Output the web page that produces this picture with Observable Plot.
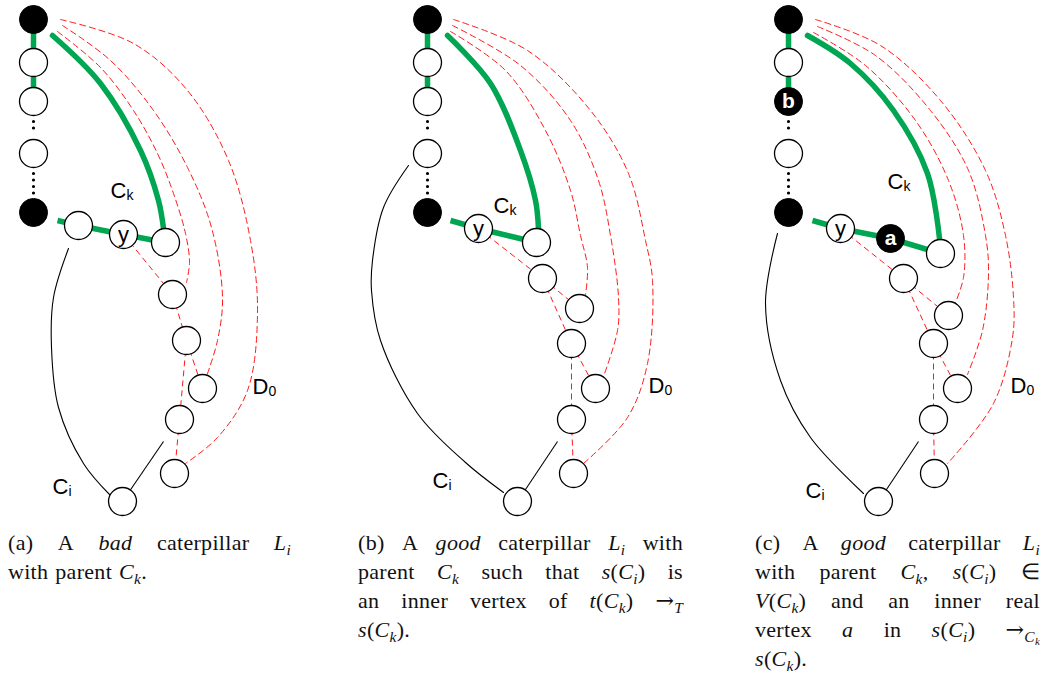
<!DOCTYPE html>
<html><head><meta charset="utf-8">
<script src="https://cdn.jsdelivr.net/npm/d3@7"></script>
<script src="https://cdn.jsdelivr.net/npm/@observablehq/plot@0.6"></script>
<style>
body{margin:0;background:#fff;width:1042px;height:677px;overflow:hidden}
#chart svg{display:block}
#caps{position:relative;width:1042px;height:157px;font-family:"Liberation Serif","Times New Roman",serif;font-size:22px;color:#111;overflow:hidden}
.col{position:absolute;top:8px}
.ln{height:29px;line-height:29px;display:flex;justify-content:space-between;white-space:nowrap;letter-spacing:0.3px}
.ln.last{justify-content:flex-start;gap:7px}
sub{font-size:0.7em;vertical-align:-0.3em;line-height:0}
.arr{font-family:"DejaVu Serif",serif;font-size:1em}
</style></head>
<body>
<div id="chart"></div>
<div id="caps"></div>
<script>
// ---------- nodes (x, y in picture pixels) ----------
const nodesA = [
  {id:"a_top",x:33,y:19,kind:"black",label:""},
  {id:"a_n2",x:33,y:62,kind:"white",label:""},
  {id:"a_n3",x:33,y:101,kind:"white",label:""},
  {id:"a_n4",x:33,y:153,kind:"white",label:""},
  {id:"a_bl",x:33,y:212,kind:"black",label:""},
  {id:"a_w1",x:78,y:225,kind:"white",label:""},
  {id:"a_y",x:123,y:234,kind:"white",label:"y"},
  {id:"a_g",x:165,y:242,kind:"white",label:""},
  {id:"a5",x:172,y:294,kind:"white",label:""},
  {id:"a6",x:186,y:340,kind:"white",label:""},
  {id:"a7",x:202,y:388,kind:"white",label:""},
  {id:"a8",x:179,y:419,kind:"white",label:""},
  {id:"a9",x:174,y:473,kind:"white",label:""},
  {id:"a_ci",x:122,y:501,kind:"white",label:""},
  {id:"a_gs",x:57,y:220,kind:"anchor",label:""},
  {id:"a_ce",x:163,y:441,kind:"anchor",label:""}
];
const nodesB = [
  {id:"b_top",x:427,y:19,kind:"black",label:""},
  {id:"b_n2",x:427,y:62,kind:"white",label:""},
  {id:"b_n3",x:427,y:101,kind:"white",label:""},
  {id:"b_n4",x:427,y:153,kind:"white",label:""},
  {id:"b_bl",x:427,y:212,kind:"black",label:""},
  {id:"b_y",x:478,y:228,kind:"white",label:"y"},
  {id:"b_g",x:536,y:242,kind:"white",label:""},
  {id:"b5",x:542,y:278,kind:"white",label:""},
  {id:"b6",x:579,y:308,kind:"white",label:""},
  {id:"b7",x:571,y:343,kind:"white",label:""},
  {id:"b8",x:595,y:388,kind:"white",label:""},
  {id:"b9",x:571,y:419,kind:"white",label:""},
  {id:"b10",x:573,y:473,kind:"white",label:""},
  {id:"b_ci",x:517,y:501,kind:"white",label:""},
  {id:"b_gs",x:450,y:220,kind:"anchor",label:""},
  {id:"b_ce",x:557,y:441,kind:"anchor",label:""}
];
const nodesC = [
  {id:"c_top",x:788,y:19,kind:"black",label:""},
  {id:"c_n2",x:788,y:62,kind:"white",label:""},
  {id:"c_b",x:788,y:101,kind:"black",label:"b"},
  {id:"c_n4",x:788,y:153,kind:"white",label:""},
  {id:"c_bl",x:788,y:212,kind:"black",label:""},
  {id:"c_y",x:840,y:228,kind:"white",label:"y"},
  {id:"c_a",x:890,y:238,kind:"black",label:"a"},
  {id:"c_g",x:940,y:253,kind:"white",label:""},
  {id:"c5",x:903,y:278,kind:"white",label:""},
  {id:"c6",x:948,y:315,kind:"white",label:""},
  {id:"c7",x:933,y:343,kind:"white",label:""},
  {id:"c8",x:957,y:388,kind:"white",label:""},
  {id:"c9",x:933,y:419,kind:"white",label:""},
  {id:"c10",x:934,y:473,kind:"white",label:""},
  {id:"c_ci",x:878,y:501,kind:"white",label:""},
  {id:"c_gs",x:812,y:220,kind:"anchor",label:""},
  {id:"c_ce",x:918,y:441,kind:"anchor",label:""}
];

// ---------- edges ----------
const greenEdges = [
  ["a_top","a_n2"],["a_n2","a_n3"],["a_gs","a_w1"],["a_w1","a_y"],["a_y","a_g"],
  ["b_top","b_n2"],["b_n2","b_n3"],["b_gs","b_y"],["b_y","b_g"],
  ["c_top","c_n2"],["c_n2","c_b"],["c_gs","c_y"],["c_y","c_a"],["c_a","c_g"]
];
const dottedEdges = [
  ["a_n3","a_n4"],["a_n4","a_bl"],
  ["b_n3","b_n4"],["b_n4","b_bl"],
  ["c_b","c_n4"],["c_n4","c_bl"]
];
const redEdges = [
  ["a_y","a5"],["a5","a6"],["a6","a7"],["a6","a8"],["a8","a9"],
  ["b_y","b5"],["b5","b6"],["b5","b7"],["b7","b8"],["b7","b9"],["b9","b10"],
  ["c_y","c5"],["c5","c6"],["c5","c7"],["c7","c8"],["c7","c9"],["c9","c10"]
];
const blackEdges = [["a_ci","a_ce"],["b_ci","b_ce"],["c_ci","c_ce"]];

// ---------- curves ----------
const ckA = [[52,35],[100,83],[140,150],[158,200],[163,228]];
const ckB = [[447,35],[490,83],[520,150],[535,200],[538,228]];
const ckC = [[807,35],[850,63],[893,110],[927,173],[939,238]];

const ciA = [[68,248],[53,297],[51,347],[58,407],[83,463],[110,495]];
const ciB = [[408,165],[383,207],[372,260],[371,290],[380,340],[417,413],[465,462],[503,492]];
const ciC = [[777,233],[765,303],[780,380],[810,437],[863,493]];

const redA = [
  [[57,31],[100,67],[133,110],[157,153],[173,193],[185,233],[189,262],[186,282]],
  [[62,25],[110,60],[153,110],[187,167],[211,227],[222,297],[217,340],[206,376]],
  [[60,19],[133,43],[187,90],[228,160],[250,240],[257,313],[247,390],[217,437],[185,463]]
];
const redB = [
  [[450,31],[505,70],[545,130],[570,190],[580,235],[587,267],[585,294]],
  [[452,25],[520,65],[570,120],[598,180],[610,235],[618,297],[617,330],[603,376]],
  [[453,19],[527,50],[590,110],[628,173],[645,240],[652,280],[647,363],[627,417],[583,463]]
];
const redC = [
  [[813,32],[865,65],[915,120],[948,180],[963,235],[963,277],[955,302]],
  [[817,26],[875,55],[930,110],[968,170],[985,235],[988,273],[982,330],[967,374]],
  [[815,19],[880,45],[940,100],[985,170],[1005,235],[1013,297],[1012,337],[993,403],[947,463]]
];

// ---------- curve labels ----------
const curveLabels = [
  {x:110,y:190,base:"C",sub:"k"},{x:493,y:205,base:"C",sub:"k"},{x:887,y:181,base:"C",sub:"k"},
  {x:52,y:486,base:"C",sub:"i"},{x:432,y:480,base:"C",sub:"i"},{x:805,y:490,base:"C",sub:"i"},
  {x:252,y:386,base:"D",sub:"0"},{x:648,y:385,base:"D",sub:"0"},{x:1010,y:385,base:"D",sub:"0"}
];

// ---------- captions ----------
const S = (v, s) => `<i>${v}</i><sub><i>${s}</i></sub>`;
const capA = [
  ["(a)","A","<i>bad</i>","caterpillar",S("L","i")],
  ["with","parent",S("C","k")+"."]
];
const capB = [
  ["(b)","A","<i>good</i>","caterpillar",S("L","i"),"with"],
  ["parent",S("C","k"),"such","that",`<i>s</i>(${S("C","i")})`,"is"],
  ["an","inner","vertex","of",`<i>t</i>(${S("C","k")})`,`<span class="arr">→</span><sub><i>T</i></sub>`],
  [`<i>s</i>(${S("C","k")}).`]
];
const capC = [
  ["(c)","A","<i>good</i>","caterpillar",S("L","i")],
  ["with","parent",S("C","k")+",",`<i>s</i>(${S("C","i")})`,"∈"],
  [`<i>V</i>(${S("C","k")})`,"and","an","inner","real"],
  ["vertex","<i>a</i>","in",`<i>s</i>(${S("C","i")})`,`<span class="arr">→</span><sub>${S("C","k")}</sub>`],
  [`<i>s</i>(${S("C","k")}).`]
];
const capCols = [{left:8,width:283,lines:capA},{left:358,width:325,lines:capB},{left:755,width:285,lines:capC}];

// ---------- build ----------
const allNodes = [...nodesA, ...nodesB, ...nodesC];
const byId = new Map(allNodes.map(d => [d.id, d]));
const seg = pairs => pairs.map(([a, b]) => ({x1: byId.get(a).x, y1: byId.get(a).y, x2: byId.get(b).x, y2: byId.get(b).y}));
const pts = curves => curves.flatMap((c, i) => c.map(([x, y]) => ({x, y, z: i})));
const dotted = seg(dottedEdges).map(d => ({...d, y1: d.y1 + 20, y2: d.y2 - 19}));

const GREEN = "#00a651", RED = "#ff1a1a";
const visible = allNodes.filter(d => d.kind !== "anchor");

const chart = Plot.plot({
  width: 1042, height: 520, margin: 0,
  x: {domain: [0, 1042], range: [0, 1042], axis: null},
  y: {domain: [0, 520], range: [0, 520], axis: null},
  style: {fontFamily: "'Liberation Sans', Arial, sans-serif", background: "white"},
  marks: [
    Plot.line(pts([...redA, ...redB, ...redC]), {x: "x", y: "y", z: "z", stroke: RED, strokeWidth: 1, strokeDasharray: "6,4", curve: "catmull-rom"}),
    Plot.link(seg(redEdges), {x1: "x1", y1: "y1", x2: "x2", y2: "y2", stroke: RED, strokeWidth: 1, strokeDasharray: "6,4"}),
    Plot.line(pts([ciA, ciB, ciC]), {x: "x", y: "y", z: "z", stroke: "black", strokeWidth: 1.1, curve: "catmull-rom"}),
    Plot.link(seg(blackEdges), {x1: "x1", y1: "y1", x2: "x2", y2: "y2", stroke: "black", strokeWidth: 1.1}),
    Plot.line(pts([ckA, ckB, ckC]), {x: "x", y: "y", z: "z", stroke: GREEN, strokeWidth: 5.5, curve: "catmull-rom"}),
    Plot.link(seg(greenEdges), {x1: "x1", y1: "y1", x2: "x2", y2: "y2", stroke: GREEN, strokeWidth: 5.5}),
    Plot.link(dotted, {x1: "x1", y1: "y1", x2: "x2", y2: "y2", stroke: "black", strokeWidth: 3.2, strokeDasharray: "0,6.5", strokeLinecap: "round"}),
    Plot.dot(visible.filter(d => d.kind === "white"), {x: "x", y: "y", r: 14, fill: "white", stroke: "black", strokeWidth: 1.3}),
    Plot.dot(visible.filter(d => d.kind === "black"), {x: "x", y: "y", r: 14, fill: "black", stroke: "black", strokeWidth: 1}),
    Plot.text(visible.filter(d => d.label && d.kind === "white"), {x: "x", y: "y", text: "label", fontSize: 22, fill: "black"}),
    Plot.text(visible.filter(d => d.label && d.kind === "black"), {x: "x", y: "y", text: "label", fontSize: 21, fontWeight: "bold", fill: "white"}),
    Plot.text(curveLabels, {x: "x", y: "y", text: "base", fontSize: 22, textAnchor: "start", fill: "black"}),
    Plot.text(curveLabels, {x: "x", y: "y", text: "sub", fontSize: 14, textAnchor: "start", dx: 16, dy: 5, fill: "black"})
  ]
});
document.getElementById("chart").append(chart);

const caps = document.getElementById("caps");
for (const col of capCols) {
  const div = document.createElement("div");
  div.className = "col";
  div.style.left = col.left + "px";
  div.style.width = col.width + "px";
  col.lines.forEach((words, i) => {
    const ln = document.createElement("div");
    const last = i === col.lines.length - 1 && words.length < 4;
    ln.className = "ln" + (last ? " last" : "");
    ln.innerHTML = words.map(w => `<span>${w}</span>`).join("");
    div.append(ln);
  });
  caps.append(div);
}
</script>
</body></html>
